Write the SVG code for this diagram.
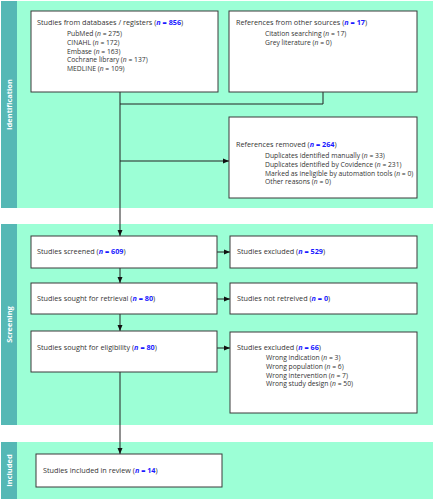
<svg xmlns="http://www.w3.org/2000/svg" width="437" height="500" viewBox="0 0 437 500">
<style>
.panel{fill:#9cffd6}
.side{fill:#55b8b5}
.box{fill:#fff;stroke:#3a3a3a;stroke-width:1}
text{font-family:"Open Sans","Liberation Sans",sans-serif;font-size:6.75px;fill:#333}
.t{font-size:7.25px}
.n{fill:#1a1aff;font-weight:bold}
.lab{fill:#fff;font-weight:bold;font-size:7.5px}
.c{fill:none;stroke:#222;stroke-width:1}
</style>
<defs>
<marker id="ah" viewBox="0 0 6 6" refX="6" refY="3" markerWidth="6" markerHeight="6" markerUnits="userSpaceOnUse" orient="auto">
<path d="M0,0.5 L6,3 L0,5.5 Z" fill="#111"/>
</marker>
</defs>
<g id="panels">
<rect class="panel" x="1" y="1" width="432" height="207"/>
<rect class="side" x="1" y="1" width="16" height="207"/>
<text class="lab" transform="translate(12,104.5) rotate(-90)" text-anchor="middle">Identification</text>
<rect class="panel" x="1" y="224" width="432" height="201"/>
<rect class="side" x="1" y="224" width="16" height="201"/>
<text class="lab" transform="translate(12,324.5) rotate(-90)" text-anchor="middle">Screening</text>
<rect class="panel" x="1" y="442" width="432" height="57"/>
<rect class="side" x="1" y="442" width="16" height="57"/>
<text class="lab" transform="translate(12,470.5) rotate(-90)" text-anchor="middle">Included</text>
</g>
<g id="connectors">
<line class="c" x1="120" y1="92" x2="120" y2="236" marker-end="url(#ah)"/>
<polyline class="c" points="323,92 323,104 120,104"/>
<line class="c" x1="120" y1="161" x2="229" y2="161" marker-end="url(#ah)"/>
<line class="c" x1="217" y1="252" x2="230" y2="252" marker-end="url(#ah)"/>
<line class="c" x1="120" y1="268" x2="120" y2="283" marker-end="url(#ah)"/>
<line class="c" x1="217" y1="299" x2="230" y2="299" marker-end="url(#ah)"/>
<line class="c" x1="120" y1="314" x2="120" y2="331" marker-end="url(#ah)"/>
<line class="c" x1="217" y1="348" x2="230" y2="348" marker-end="url(#ah)"/>
<line class="c" x1="120" y1="372" x2="120" y2="454" marker-end="url(#ah)"/>
</g>
<g id="databases">
<rect class="box" x="31" y="11" width="187" height="81"/>
<text class="t" x="37" y="25">Studies from databases / registers (<tspan class="n" font-style="italic">n</tspan><tspan class="n"> = 856</tspan>)</text>
<text x="67" y="36">PubMed (<tspan font-style="italic">n</tspan> = 275)</text>
<text x="67" y="44.8">CINAHL (<tspan font-style="italic">n</tspan> = 172)</text>
<text x="67" y="53.6">Embase (<tspan font-style="italic">n</tspan> = 163)</text>
<text x="67" y="62.4">Cochrane library (<tspan font-style="italic">n</tspan> = 137)</text>
<text x="67" y="71.2">MEDLINE (<tspan font-style="italic">n</tspan> = 109)</text>
</g>
<g id="other">
<rect class="box" x="229" y="11" width="188" height="81"/>
<text class="t" x="236" y="25">References from other sources (<tspan class="n" font-style="italic">n</tspan><tspan class="n"> = 17</tspan>)</text>
<text x="265" y="36">Citation searching (<tspan font-style="italic">n</tspan> = 17)</text>
<text x="265" y="44.8">Grey literature (<tspan font-style="italic">n</tspan> = 0)</text>
</g>
<g id="removed">
<rect class="box" x="229" y="117" width="188" height="81"/>
<text class="t" x="236" y="147">References removed (<tspan class="n" font-style="italic">n</tspan><tspan class="n"> = 264</tspan>)</text>
<text x="265" y="158">Duplicates identified manually (<tspan font-style="italic">n</tspan> = 33)</text>
<text x="265" y="166.8">Duplicates identified by Covidence (<tspan font-style="italic">n</tspan> = 231)</text>
<text x="265" y="175.6">Marked as ineligible by automation tools (<tspan font-style="italic">n</tspan> = 0)</text>
<text x="265" y="184.4">Other reasons (<tspan font-style="italic">n</tspan> = 0)</text>
</g>
<g id="screened">
<rect class="box" x="31" y="236" width="186" height="32"/>
<text class="t" x="37" y="254">Studies screened (<tspan class="n" font-style="italic">n</tspan><tspan class="n"> = 609</tspan>)</text>
</g>
<g id="excluded1">
<rect class="box" x="230" y="236" width="187" height="32"/>
<text class="t" x="237" y="254">Studies excluded (<tspan class="n" font-style="italic">n</tspan><tspan class="n"> = 529</tspan>)</text>
</g>
<g id="retrieval">
<rect class="box" x="31" y="283" width="186" height="31"/>
<text class="t" x="37" y="301">Studies sought for retrieval (<tspan class="n" font-style="italic">n</tspan><tspan class="n"> = 80</tspan>)</text>
</g>
<g id="notretrieved">
<rect class="box" x="230" y="283" width="187" height="31"/>
<text class="t" x="237" y="301">Studies not retreived (<tspan class="n" font-style="italic">n</tspan><tspan class="n"> = 0</tspan>)</text>
</g>
<g id="eligibility">
<rect class="box" x="31" y="331" width="186" height="41"/>
<text class="t" x="37" y="350">Studies sought for eligibility (<tspan class="n" font-style="italic">n</tspan><tspan class="n"> = 80</tspan>)</text>
</g>
<g id="excluded2">
<rect class="box" x="230" y="332" width="187" height="81"/>
<text class="t" x="237" y="350">Studies excluded (<tspan class="n" font-style="italic">n</tspan><tspan class="n"> = 66</tspan>)</text>
<text x="266" y="360">Wrong indication (<tspan font-style="italic">n</tspan> = 3)</text>
<text x="266" y="368.8">Wrong population (<tspan font-style="italic">n</tspan> = 6)</text>
<text x="266" y="377.6">Wrong intervention (<tspan font-style="italic">n</tspan> = 7)</text>
<text x="266" y="386.4">Wrong study design (<tspan font-style="italic">n</tspan> = 50)</text>
</g>
<g id="included">
<rect class="box" x="36" y="454" width="186" height="33"/>
<text class="t" x="43" y="473">Studies included in review (<tspan class="n" font-style="italic">n</tspan><tspan class="n"> = 14</tspan>)</text>
</g>
</svg>
